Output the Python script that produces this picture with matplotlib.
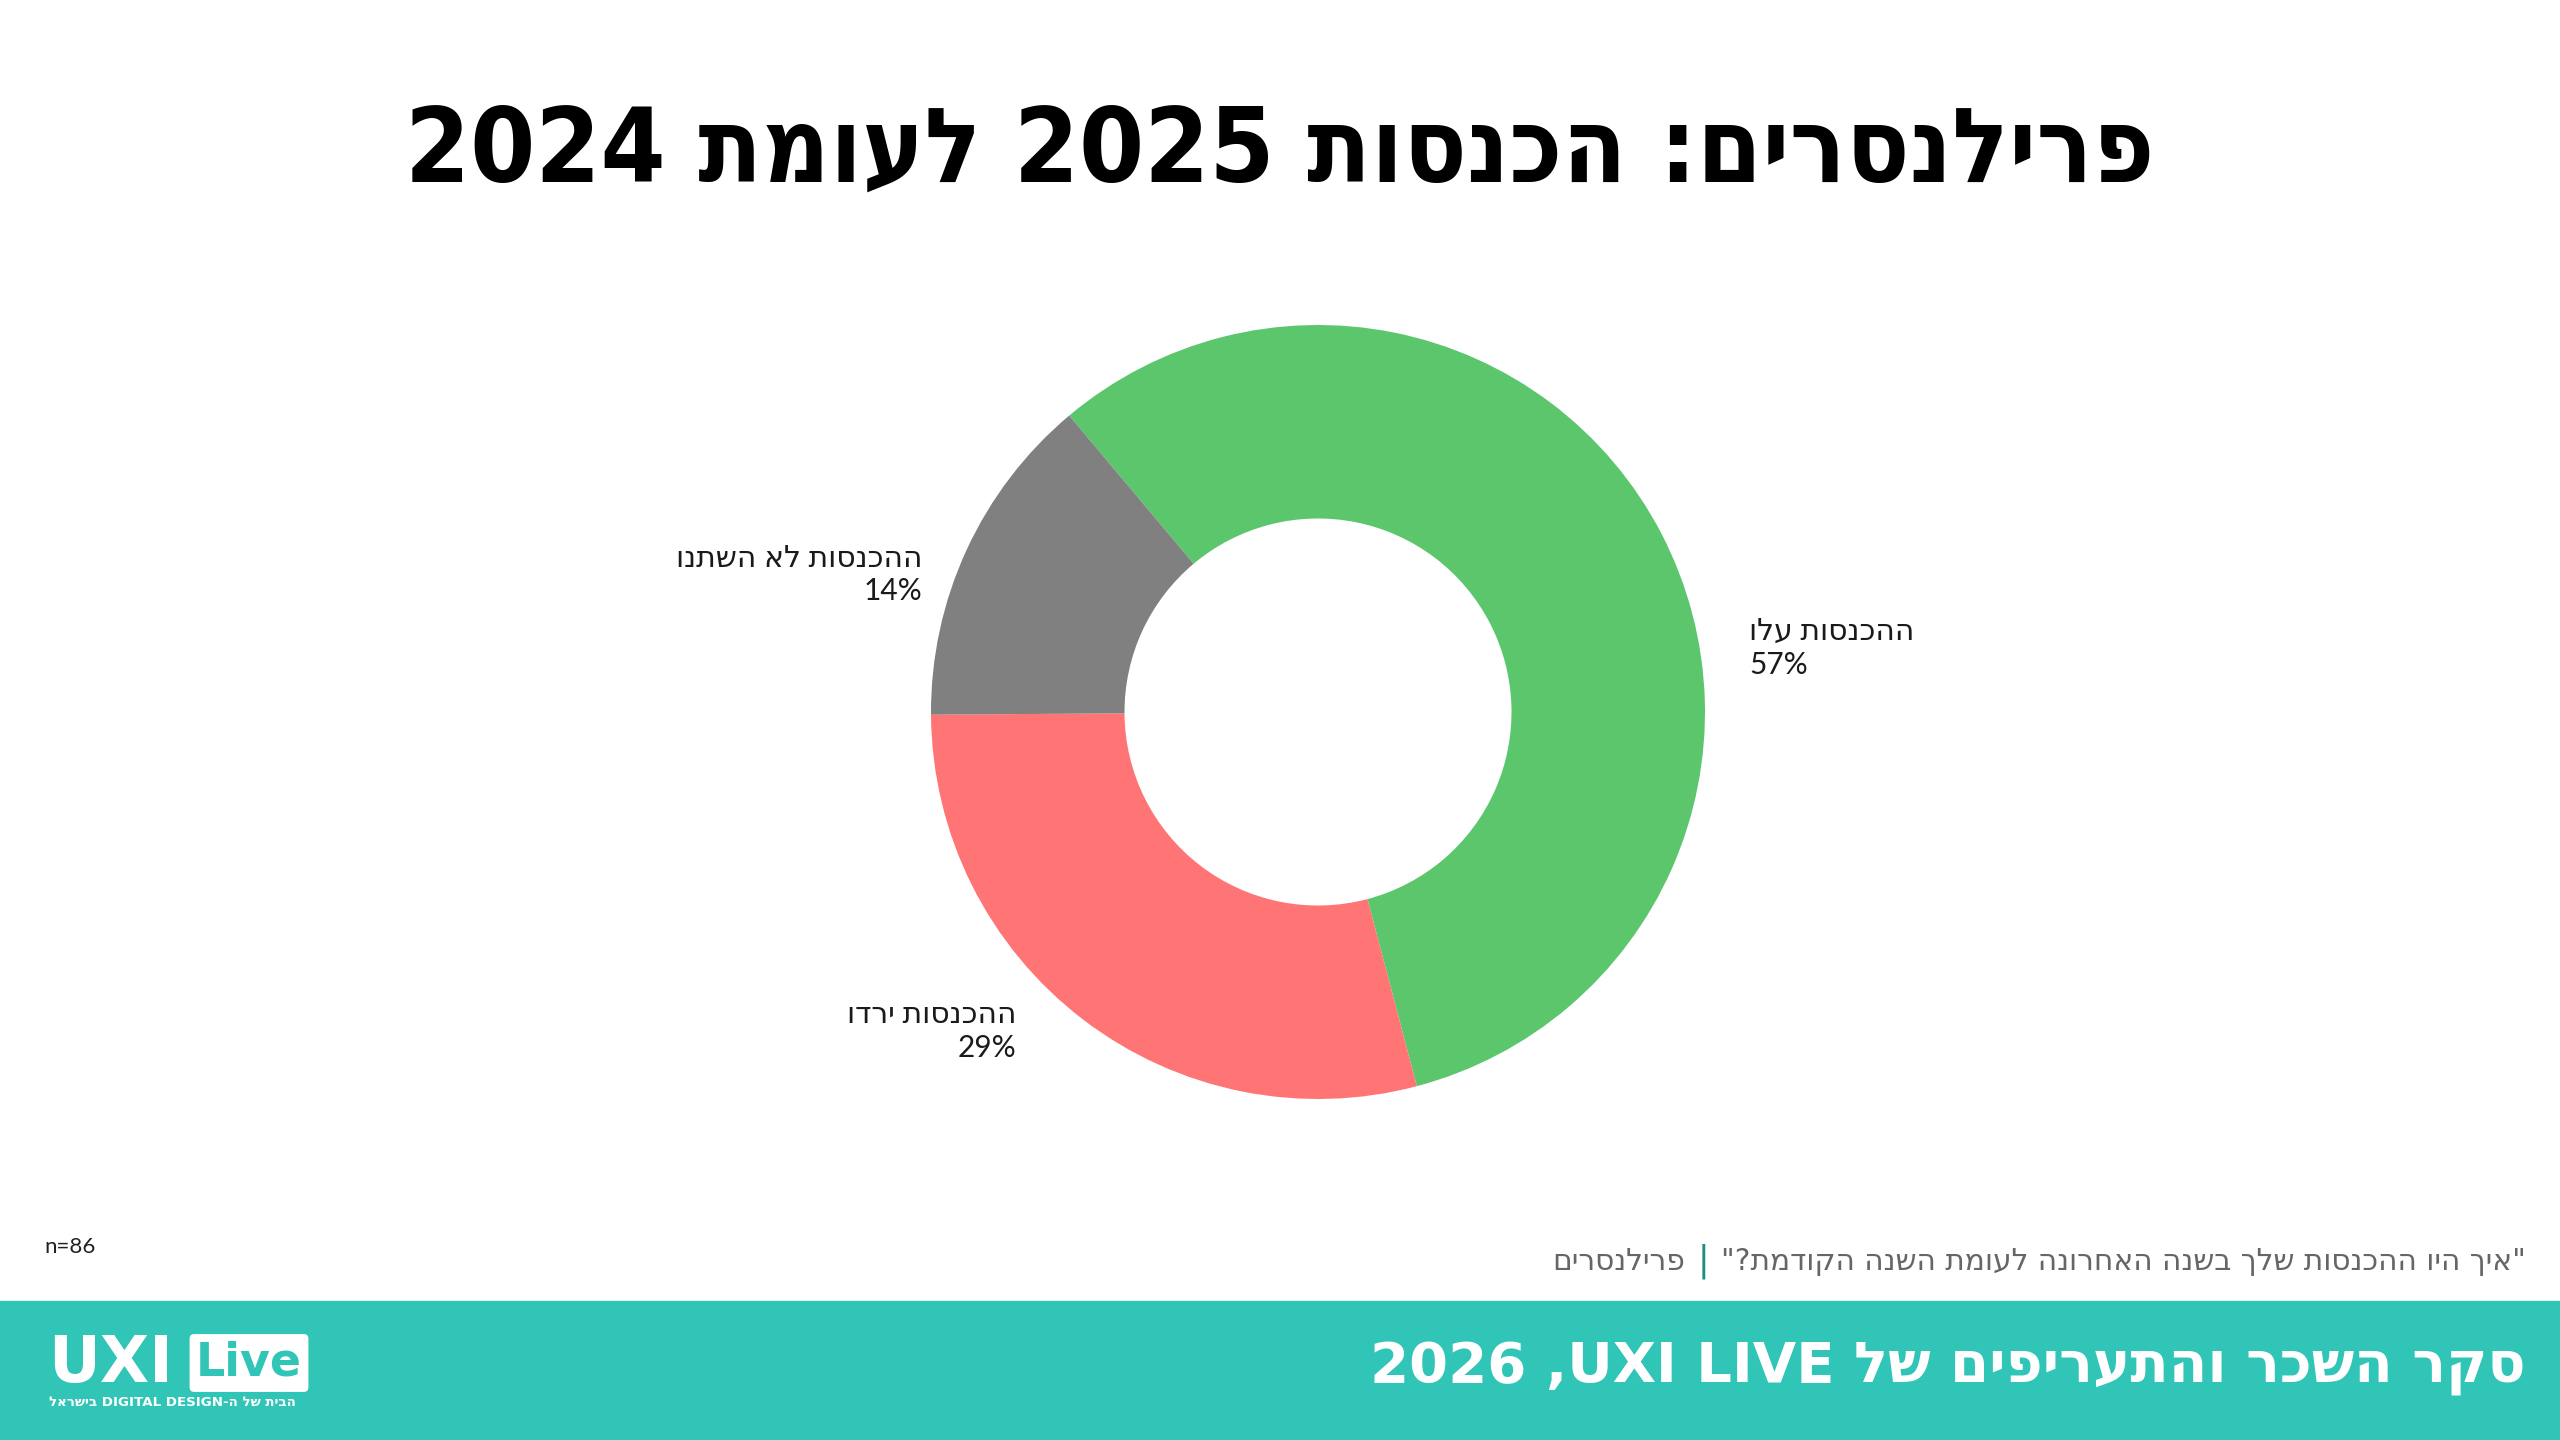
import numpy as np
import matplotlib.pyplot as plt

# data
categories = ["ההכנסות עלו", "ההכנסות ירדו", "ההכנסות לא השתנו"]
shares = [57, 29, 14]
colors = ["#5cc66d", "#ff7474", "#808080"]
n_total = 86

title = "פרילנסרים: הכנסות 2025 לעומת 2024"
question = '"איך היו ההכנסות שלך בשנה האחרונה לעומת השנה הקודמת?"'
group = "פרילנסרים"
footer = "סקר השכר והתעריפים של LIVE UXI, 2026"

TEAL = "#30c5b7"
HEB_FONT = ["DejaVu Sans"]
plt.rcParams["font.family"] = ["Lato", "DejaVu Sans"]


def is_heb(w):
    return any("\u0590" <= c <= "\u05ff" for c in w)


def visual(s):
    # crude right-to-left reordering, matplotlib has no bidi support
    out = []
    for w in reversed(s.split(" ")):
        if is_heb(w):
            out.append(w[::-1])
        elif w and w[-1] in ",:":
            out.append(w[-1] + w[:-1])
        else:
            out.append(w)
    return " ".join(out)


W, H = 2560, 1440
fig = plt.figure(figsize=(25.6, 14.4), dpi=100)
fig.patch.set_facecolor("white")

# donut, centre at (1318, 712) px, outer radius 387 px
R = 387
lim = 1.5
side = 2 * lim * R
cx, cy = 1318, H - 712
ax = fig.add_axes([(cx - side / 2) / W, (cy - side / 2) / H, side / W, side / H])
wedges, _ = ax.pie(shares, colors=colors, startangle=130, counterclock=False,
                   radius=1.0, wedgeprops=dict(width=0.5, linewidth=0))
ax.set_xlim(-lim, lim)
ax.set_ylim(-lim, lim)
ax.axis("off")

# outside labels (anchor points in pie units)
label_pos = [(1.114, 0.165, "left"), (-0.78, -0.825, "right"), (-1.023, 0.355, "right")]
for cat, val, (lx, ly, ha) in zip(categories, shares, label_pos):
    ax.text(lx, ly, visual(cat) + "\n" + f"{val}%", ha=ha, va="center",
            fontsize=21.5, color="#1a1a1a", linespacing=1.25,
            family=["Lato", "DejaVu Sans"])

# title
fig.text(0.5, 1 - 153 / H, visual(title), ha="center", va="center",
         fontsize=75, fontweight="heavy", color="black",
         family=["DejaVu Sans"], fontstretch="condensed")

# sample size
fig.text(44 / W, 1 - 1247 / H, f"n={n_total}", ha="left", va="center",
         fontsize=16, color="#222222")

# question line, composed right to left
fig.canvas.draw()
renderer = fig.canvas.get_renderer()
q = fig.text(2526 / W, 1 - 1261 / H, visual(question), ha="right", va="center",
             fontsize=21.3, color="#666666", family=HEB_FONT)
x_left = q.get_window_extent(renderer).x0
sep = fig.text((x_left - 12) / W, 1 - 1261 / H, "|", ha="right", va="center",
               fontsize=25, color="#1f8c82", family=HEB_FONT)
x_left = sep.get_window_extent(renderer).x0
fig.text((x_left - 12) / W, 1 - 1261 / H, visual(group), ha="right", va="center",
         fontsize=21.3, color="#666666", family=HEB_FONT)

# footer band
band_h = (H - 1301) / H
fig.patches.append(plt.Rectangle((0, 0), 1, band_h, transform=fig.transFigure,
                                 color=TEAL, zorder=0))
fig.text(2526 / W, 1 - 1369 / H, visual(footer), ha="right", va="center",
         fontsize=40.4, fontweight="bold", color="white", family=HEB_FONT)

# logo
fig.text(48 / W, 1 - 1364 / H, "UXI", ha="left", va="center", fontsize=46,
         fontweight="heavy", color="white", family=["DejaVu Sans"])
fig.text(196 / W, 1 - 1363 / H, "Live", ha="left", va="center", fontsize=33,
         fontweight="bold", color=TEAL, family=["DejaVu Sans"],
         bbox=dict(boxstyle="round,pad=0.14,rounding_size=0.1", fc="white", ec="none"))
tag = "בישראל"[::-1] + " DIGITAL DESIGN-" + "הבית של ה"[::-1]
fig.text(49 / W, 1 - 1403 / H, tag, ha="left", va="center", fontsize=9.6,
         fontweight="bold", color="white", family=["DejaVu Sans"])

fig.savefig("out.png", dpi=100)
